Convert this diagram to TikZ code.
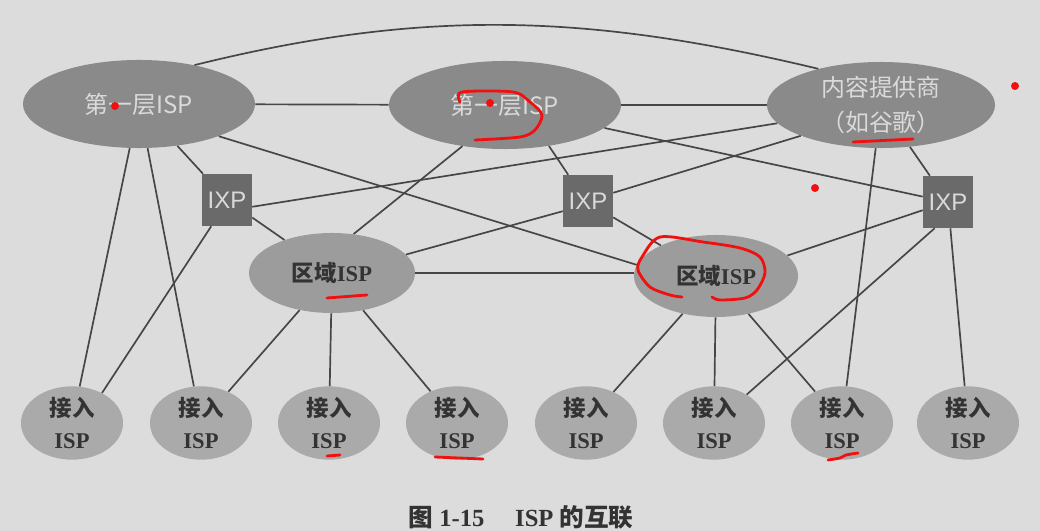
\documentclass[tikz,border=0pt]{standalone}
\usepackage{fontspec}
\setmainfont{Liberation Serif}
\setsansfont{Liberation Sans}
\newfontfamily\cjk{Noto Sans CJK SC}
\usetikzlibrary{shapes.geometric}

\definecolor{tlo}{HTML}{DCDCDC}
\definecolor{szary1}{HTML}{8A8A8A}
\definecolor{szary2}{HTML}{9C9C9C}
\definecolor{szary3}{HTML}{AAAAAA}
\definecolor{szaryixp}{HTML}{6A6A6A}
\definecolor{linia}{HTML}{464646}
\definecolor{jasny}{HTML}{DADADA}
\definecolor{ciemny}{HTML}{333333}
\definecolor{pisak}{HTML}{F01010}

\begin{document}
\begin{tikzpicture}[x=0.025cm, y=-0.025cm,
  isp1/.style={ellipse, fill=szary1, inner sep=0pt, minimum width=5.8cm,
    minimum height=2.2cm, text=jasny, align=center,
    font=\cjk\fontsize{17}{25}\selectfont},
  ixpbox/.style={rectangle, fill=szaryixp, inner sep=0pt, minimum width=1.25cm,
    minimum height=1.3cm, text=jasny, font=\sffamily\fontsize{17}{18}\selectfont},
  regisp/.style={ellipse, fill=szary2, inner sep=0pt, minimum width=4.15cm,
    minimum height=2cm, text=ciemny, font=\bfseries\fontsize{16}{20}\selectfont},
  accisp/.style={ellipse, fill=szary3, inner sep=0pt, minimum width=2.55cm,
    minimum height=1.75cm, text=ciemny, align=center,
    font=\bfseries\fontsize{16}{23}\selectfont},
  conn/.style={draw=linia, line width=1.2pt},
  redpen/.style={draw=pisak, line width=2pt, line cap=round, line join=round}]

  % tlo
  \fill[tlo] (0,0) rectangle (1040,531);
  \useasboundingbox (0,0) rectangle (1040,531);

  % pierwsza warstwa
  \node[isp1] (t1a) at (139,104) {第一层ISP};
  \node[isp1] (t1b) at (505,105) {第一层ISP};
  \node[isp1, minimum width=5.7cm, minimum height=2.15cm] (cp) at (881,105)
    {内容提供商\\（如谷歌）};

  % IXP
  \node[ixpbox] (ixa) at (227,200) {IXP};
  \node[ixpbox] (ixb) at (588,201) {IXP};
  \node[ixpbox] (ixc) at (948,202) {IXP};

  % regionalne
  \node[regisp] (rega) at (332,273) {{\cjk 区域}ISP};
  \node[regisp, minimum width=4.1cm, minimum height=2.05cm] (regb) at (716,276)
    {{\cjk 区域}ISP};

  % dostepowe
  \foreach \i/\x in {1/72, 2/201, 3/329, 4/457, 5/586, 6/714, 7/842, 8/968}
    \node[accisp] (acc\i) at (\x,423) {{\cjk 接入}\\ISP};

  % polaczenia
  \draw[conn] (t1a) -- (t1b);
  \draw[conn] (t1b) -- (cp);
  \draw[conn] (t1a.35) .. controls +(230,-57) and +(-230,-55) .. (cp.150);
  \draw[conn] (t1a) -- (ixa);
  \draw[conn] (t1a) -- (acc1);
  \draw[conn] (t1a) -- (acc2);
  \draw[conn] (t1a.-22) -- (regb.172);
  \draw[conn] (ixa.239) -- (acc1.45);
  \draw[conn] (ixa) -- (rega);
  \draw[conn] (ixa.-15) -- (cp.190);
  \draw[conn] (rega.61) -- (t1b.224);
  \draw[conn] (rega.14) -- (ixb.202);
  \draw[conn] (ixb.127) -- (t1b.-43);
  \draw[conn] (ixb.18) -- (cp.201);
  \draw[conn] (ixb.-33) -- (regb.151);
  \draw[conn] (t1b.-13) -- (ixc.168);
  \draw[conn] (cp) -- (ixc);
  \draw[conn] (cp) -- (acc7);
  \draw[conn] (ixc.198) -- (regb.16);
  \draw[conn] (ixc.243) -- (acc6.41);
  \draw[conn] (ixc) -- (acc8);
  \draw[conn] (rega.east) -- (rega.east -| regb.west);
  \draw[conn] (rega) -- (acc2);
  \draw[conn] (rega) -- (acc3);
  \draw[conn] (rega) -- (acc4);
  \draw[conn] (regb) -- (acc5);
  \draw[conn] (regb) -- (acc6);
  \draw[conn] (regb) -- (acc7);

  % podpis
  \node[text=ciemny, font=\bfseries\fontsize{17.5}{20}\selectfont] (podpis)
    at (521,517) {{\cjk 图} 1-15\quad\ ISP {\cjk 的互联}};

  % czerwone dopiski
  \draw[redpen] plot[smooth] coordinates {(460,102) (462,92) (513,92) (530,102)
    (542,115) (535,130) (520,137) (475,140)};
  \draw[redpen] plot[smooth] coordinates {(682,297) (670,295) (650,287) (638,270)
    (642,257) (660,237) (703,242) (740,248) (760,257) (765,273) (757,290)
    (745,298) (720,300) (712,297)};
  \draw[redpen] (853,142) -- (913,139);
  \draw[redpen] (327,298) -- (367,295);
  \draw[redpen] (327,456) -- (340,455);
  \draw[redpen] (435,457) -- (483,459);
  \draw[redpen] plot[smooth] coordinates {(828,460) (840,458) (846,455) (858,453)};
  \fill[pisak] (115,106) circle (4) (490,103) circle (4)
    (1015,86) circle (4) (815,188) circle (4);
\end{tikzpicture}
\end{document}
